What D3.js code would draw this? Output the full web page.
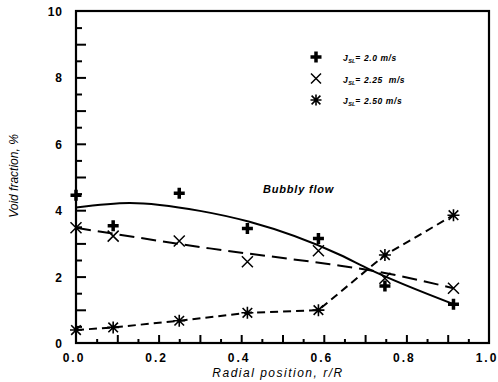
<!DOCTYPE html>
<html>
<head>
<meta charset="utf-8">
<script src="https://cdn.jsdelivr.net/npm/d3@7"></script>
<style>
  body { margin: 0; background: #fff; }
  text { font-family: "Liberation Sans", Arial, sans-serif; fill: #000; }
</style>
</head>
<body>
<script>
var svgWidth = 498
var svgHeight = 382

// data
var radial = [0.0, 0.09, 0.25, 0.415, 0.587, 0.748, 0.914];
var void20 = [4.45, 3.53, 4.51, 3.45, 3.15, 1.72, 1.17];
var void225 = [3.47, 3.22, 3.07, 2.45, 2.78, 1.95, 1.65];
var void250 = [0.39, 0.47, 0.67, 0.91, 0.99, 2.65, 3.85];

// fitted curves
var fit20X = [0.0, 0.13, 0.3, 0.42, 0.64, 0.708, 0.914];
var fit20Y = [4.08, 4.22, 3.98, 3.65, 2.65, 2.23, 1.17];
var fit225X = [0.0, 0.324, 0.615, 0.708, 0.914];
var fit225Y = [3.47, 2.85, 2.37, 2.2, 1.65];

var legendLabels = ["= 2.0 m/s", "= 2.25  m/s", "= 2.50 m/s"];
var xTickLabels = [0.0, 0.2, 0.4, 0.6, 0.8, 1.0];
var yTickLabels = [0, 2, 4, 6, 8, 10];

var margin = {top: 11, right: 9, bottom: 39, left: 76};
var width = svgWidth - margin.left - margin.right;
var height = svgHeight - margin.top - margin.bottom;

var svg = d3.select("body").append("svg").attr("width", svgWidth).attr("height", svgHeight);
var chartGroup = svg.append("g").attr("transform", `translate(${margin.left}, ${margin.top})`);

var x = d3.scaleLinear().domain([0, 1]).range([0, width]);
var y = d3.scaleLinear().domain([0, 10]).range([height, 0]);

// ticks pointing inward
var xMinor = d3.axisBottom(x).tickValues(d3.range(0.05, 1, 0.1)).tickSize(-4).tickFormat("");
var xMajor = d3.axisBottom(x).tickValues(d3.range(0.1, 0.95, 0.1)).tickSize(-8).tickFormat("");
var yMinor = d3.axisLeft(y).tickValues(d3.range(0.5, 10, 1)).tickSize(-6).tickFormat("");
var yMajor = d3.axisLeft(y).tickValues(d3.range(1, 10, 1)).tickSize(-10).tickFormat("");

[xMinor, xMajor].forEach(function(ax) {
    chartGroup.append("g").attr("transform", `translate(0,${height})`).call(ax)
        .call(g => g.select(".domain").remove())
        .selectAll("line").attr("stroke", "#000").attr("stroke-width", 2);
});
[yMinor, yMajor].forEach(function(ax) {
    chartGroup.append("g").call(ax)
        .call(g => g.select(".domain").remove())
        .selectAll("line").attr("stroke", "#000").attr("stroke-width", 2);
});

// frame
chartGroup.append("rect").attr("width", width).attr("height", height)
    .attr("fill", "none").attr("stroke", "#000").attr("stroke-width", 2.2);

// tick labels
chartGroup.selectAll(".xlab").data(xTickLabels).enter().append("text")
    .attr("x", d => x(d) - 2).attr("y", height + 19)
    .attr("text-anchor", "middle").style("font-size", "12px").style("font-weight", "bold")
    .style("letter-spacing", "2px")
    .text(d => d3.format(".1f")(d));

chartGroup.selectAll(".ylab").data(yTickLabels).enter().append("text")
    .attr("x", -13).attr("y", d => y(d) + 5)
    .attr("text-anchor", "end").style("font-size", "12px").style("font-weight", "bold")
    .style("letter-spacing", "1px")
    .text(d => d);

// curves
var smooth = d3.line().x(d => x(d[0])).y(d => y(d[1])).curve(d3.curveMonotoneX);
chartGroup.append("path").datum(d3.zip(fit20X, fit20Y)).attr("d", smooth)
    .attr("fill", "none").attr("stroke", "#000").attr("stroke-width", 2);

chartGroup.append("path").datum(d3.zip(fit225X, fit225Y)).attr("d", smooth)
    .attr("fill", "none").attr("stroke", "#000").attr("stroke-width", 2)
    .attr("stroke-dasharray", "15,7");

var poly = d3.line().x(d => x(d[0])).y(d => y(d[1]));
chartGroup.append("path").datum(d3.zip(radial, void250)).attr("d", poly)
    .attr("fill", "none").attr("stroke", "#000").attr("stroke-width", 2)
    .attr("stroke-dasharray", "8,5");

// markers
function plusPath(s) {
    return `M${-s},0H${s}M0,${-s}V${s}`;
}
function timesPath(s) {
    return `M${-s},${-s}L${s},${s}M${-s},${s}L${s},${-s}`;
}
function starPath(s) {
    var d = s * 0.8;
    return `M${-d},${-d}L${d},${d}M${-d},${d}L${d},${-d}M${-s},0H${s}M0,${-s}V${s}`;
}

chartGroup.selectAll(".m20").data(d3.zip(radial, void20)).enter().append("path")
    .attr("transform", d => `translate(${x(d[0])},${y(d[1])})`)
    .attr("d", plusPath(5.5)).attr("stroke", "#000").attr("stroke-width", 3.5).attr("fill", "none");

chartGroup.selectAll(".m225").data(d3.zip(radial, void225)).enter().append("path")
    .attr("transform", d => `translate(${x(d[0])},${y(d[1])})`)
    .attr("d", timesPath(5.5)).attr("stroke", "#000").attr("stroke-width", 1.5).attr("fill", "none");

chartGroup.selectAll(".m250").data(d3.zip(radial, void250)).enter().append("path")
    .attr("transform", d => `translate(${x(d[0])},${y(d[1])})`)
    .attr("d", starPath(6)).attr("stroke", "#000").attr("stroke-width", 1.6).attr("fill", "none");

// legend
var legendPaths = [plusPath(5.5), timesPath(5), starPath(5.5)];
var legendWidths = [3.5, 1.5, 1.6];
var legend = svg.append("g").attr("transform", "translate(316, 57)");
legendLabels.forEach(function(lab, i) {
    var g = legend.append("g").attr("transform", `translate(0, ${i * 21.5})`);
    g.append("path").attr("d", legendPaths[i]).attr("stroke", "#000")
        .attr("stroke-width", legendWidths[i]).attr("fill", "none");
    var t = g.append("text").attr("x", 27).attr("y", 4)
        .style("font-size", "8.5px").style("font-weight", "bold").style("font-style", "italic")
        .style("letter-spacing", "0.6px").attr("xml:space", "preserve");
    t.append("tspan").text("J");
    t.append("tspan").attr("dy", 2).style("font-size", "5.5px").style("letter-spacing", "0px").text("SL");
    t.append("tspan").attr("dy", -2).text(lab);
});

// annotation
svg.append("text").attr("x", 263).attr("y", 193)
    .style("font-size", "11px").style("font-weight", "bold").style("font-style", "italic")
    .style("letter-spacing", "0.8px").text("Bubbly flow");

// axis titles
svg.append("text").attr("x", 278).attr("y", 377).attr("text-anchor", "middle")
    .style("font-size", "12px").style("font-style", "italic").style("letter-spacing", "1.5px")
    .text("Radial position, r/R");

svg.append("text").attr("transform", "translate(18, 176) rotate(-90)").attr("text-anchor", "middle")
    .style("font-size", "12px").style("font-style", "italic")
    .text("Void fraction, %");
</script>
</body>
</html>
